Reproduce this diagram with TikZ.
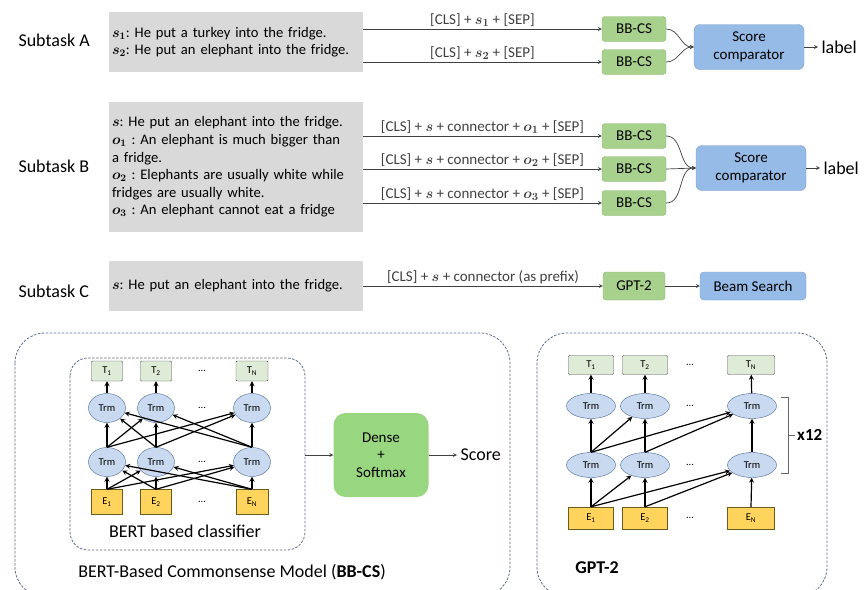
\documentclass[tikz,border=0pt]{standalone}
\usepackage{amsmath}
\usepackage{amssymb}
\usepackage{fontspec}
\setmainfont{Carlito}
\usepackage{tikz}
\usepgflibrary{arrows}
\usetikzlibrary{shapes.geometric}
\frenchspacing

\definecolor{boxgray}{HTML}{D9D9D9}
\definecolor{bbgreen}{HTML}{A9D18E}
\definecolor{bbline}{HTML}{8CB86E}
\definecolor{cmpblue}{HTML}{95BBE6}
\definecolor{cmpline}{HTML}{7C9CC8}
\definecolor{trmfill}{HTML}{C9DAF0}
\definecolor{trmline}{HTML}{4A6894}
\definecolor{tokfill}{HTML}{DDEBD7}
\definecolor{embfill}{HTML}{FFD45C}
\definecolor{embline}{HTML}{6B5A1E}
\definecolor{dashline}{HTML}{5A6B8C}

\begin{document}
\begin{tikzpicture}[x=1pt,y=-1pt,
  big/.style={font=\fontsize{18}{20}\selectfont},
  txt/.style={font=\fontsize{15}{17.6}\selectfont},
  stxt/.style={font=\fontsize{14.6}{17.6}\selectfont},
  tiny/.style={font=\fontsize{10.5}{11}\selectfont},
  sentbox/.style={stxt,fill=boxgray,minimum width=254,text width=248,inner sep=3,align=left},
  bbcs/.style={txt,fill=bbgreen,draw=bbline,rounded corners=3,minimum width=64,minimum height=25,inner sep=0},
  cmp/.style={txt,fill=cmpblue,draw=cmpline,rounded corners=6,minimum width=110,minimum height=45,inner sep=0,align=center},
  trm/.style={tiny,ellipse,fill=trmfill,draw=trmline,inner sep=0},
  tok/.style={tiny,fill=tokfill,draw=black!70,rounded corners=1,inner sep=0},
  emb/.style={tiny,fill=embfill,draw=embline,inner sep=0},
  panel/.style={draw=dashline,dash pattern=on 2.5pt off 1.5pt,line width=0.8pt,rounded corners=30},
  flow/.style={-stealth,line width=0.7pt,black!75},
  net/.style={-stealth,line width=1.2pt}]

\useasboundingbox (0,0) rectangle (867,589);
\clip (0,0) rectangle (867,589);

% subtask A
\node [big,anchor=west] (subA) at (15,40) {Subtask A};
\node [sentbox,minimum height=60] (boxA) at (236,42)
  {$\boldsymbol{s}_{\boldsymbol{1}}$: He put a turkey into the fridge.\\
   $\boldsymbol{s}_{\boldsymbol{2}}$: He put an elephant into the fridge.};
\node [bbcs] (bbA1) at (634,29) {BB-CS};
\node [bbcs] (bbA2) at (634,62) {BB-CS};
\node [cmp] (cmpA) at (749,47) {Score\\comparator};
\node [big,anchor=west] (labA) at (818,47) {label};
\draw [flow] (boxA.east |- bbA1) -- (bbA1.west) node [txt,midway,above,yshift=-1] {[CLS] + $\boldsymbol{s}_{\boldsymbol{1}}$ + [SEP]};
\draw [flow] (boxA.east |- bbA2) -- (bbA2.west) node [txt,midway,above,yshift=-1] {[CLS] + $\boldsymbol{s}_{\boldsymbol{2}}$ + [SEP]};
\draw [flow] (bbA1.east) to [out=0,in=180] (cmpA.west);
\draw [flow] (bbA2.east) to [out=0,in=180] (cmpA.west);
\draw [flow] (cmpA.east) -- (labA.west);

% subtask B
\node [big,anchor=west] (subB) at (15,166) {Subtask B};
\node [sentbox,minimum height=130] (boxB) at (236,167)
  {$\boldsymbol{s}$: He put an elephant into the fridge.\\
   $\boldsymbol{o}_{\boldsymbol{1}}$ : An elephant is much bigger than\\
   a fridge.\\
   $\boldsymbol{o}_{\boldsymbol{2}}$ : Elephants are usually white while\\
   fridges are usually white.\\
   $\boldsymbol{o}_{\boldsymbol{3}}$ : An elephant cannot eat a fridge};
\node [bbcs] (bbB1) at (634,136) {BB-CS};
\node [bbcs] (bbB2) at (634,169) {BB-CS};
\node [bbcs] (bbB3) at (634,203) {BB-CS};
\node [cmp] (cmpB) at (751,168) {Score\\comparator};
\node [big,anchor=west] (labB) at (820,168) {label};
\draw [flow] (boxB.east |- bbB1) -- (bbB1.west) node [txt,midway,above,yshift=-1] {[CLS] + $\boldsymbol{s}$ + connector + $\boldsymbol{o}_{\boldsymbol{1}}$ + [SEP]};
\draw [flow] (boxB.east |- bbB2) -- (bbB2.west) node [txt,midway,above,yshift=-1] {[CLS] + $\boldsymbol{s}$ + connector + $\boldsymbol{o}_{\boldsymbol{2}}$ + [SEP]};
\draw [flow] (boxB.east |- bbB3) -- (bbB3.west) node [txt,midway,above,yshift=-1] {[CLS] + $\boldsymbol{s}$ + connector + $\boldsymbol{o}_{\boldsymbol{3}}$ + [SEP]};
\draw [flow] (bbB1.east) to [out=0,in=180] (cmpB.west);
\draw [flow] (bbB2.east) -- (cmpB.west);
\draw [flow] (bbB3.east) to [out=0,in=180] (cmpB.west);
\draw [flow] (cmpB.east) -- (labB.west);

% subtask C
\node [big,anchor=west] (subC) at (15,291) {Subtask C};
\node [sentbox,minimum height=50] (boxC) at (236,286)
  {$\boldsymbol{s}$: He put an elephant into the fridge.};
\node [bbcs,minimum width=62,minimum height=28] (gpt) at (634,286) {GPT-2};
\node [cmp,minimum width=106,minimum height=28,rounded corners=4] (beam) at (753,286) {Beam Search};
\draw [flow] (boxC.east |- gpt) -- (gpt.west) node [txt,midway,above,yshift=-2] {[CLS] + $\boldsymbol{s}$ + connector (as prefix)};
\draw [flow] (gpt.east) -- (beam.west);

% BB-CS panel
\draw [panel] (15,333) rectangle (510,597);
\draw [panel,rounded corners=18] (70,358) rectangle (305,550);
\node [tok,minimum width=31,minimum height=20] (bt1) at (107,371) {T\textsubscript{1}};
\node [tok,minimum width=31,minimum height=20] (bt2) at (156,371) {T\textsubscript{2}};
\node [tok,minimum width=32,minimum height=20] (btn) at (252,371) {T\textsubscript{N}};
\node [trm,minimum width=37,minimum height=29] (bh1) at (107,408) {Trm};
\node [trm,minimum width=37,minimum height=29] (bh2) at (156,408) {Trm};
\node [trm,minimum width=37,minimum height=29] (bhn) at (252,408) {Trm};
\node [trm,minimum width=37,minimum height=29] (bl1) at (107,462) {Trm};
\node [trm,minimum width=37,minimum height=29] (bl2) at (156,462) {Trm};
\node [trm,minimum width=37,minimum height=29] (bln) at (252,462) {Trm};
\node [emb,minimum width=31,minimum height=25] (be1) at (107,502) {E\textsubscript{1}};
\node [emb,minimum width=31,minimum height=25] (be2) at (156,502) {E\textsubscript{2}};
\node [emb,minimum width=32,minimum height=25] (ben) at (252,502) {E\textsubscript{N}};
\node [tiny] at (202,371) {...};
\node [tiny] at (202,408) {...};
\node [tiny] at (202,462) {...};
\node [tiny] at (202,502) {...};
\begin{scope}[net]
	\draw (be1.north) -- (bl1);
	\draw (be1.north) -- (bl2);
	\draw (be1.north) -- (bln);
	\draw (be2.north) -- (bl1);
	\draw (be2.north) -- (bl2);
	\draw (be2.north) -- (bln);
	\draw (ben.north) -- (bl1);
	\draw (ben.north) -- (bl2);
	\draw (ben.north) -- (bln);
	\draw (bl1.north) -- (bh1);
	\draw (bl1.north) -- (bh2);
	\draw (bl1.north) -- (bhn);
	\draw (bl2.north) -- (bh1);
	\draw (bl2.north) -- (bh2);
	\draw (bl2.north) -- (bhn);
	\draw (bln.north) -- (bh1);
	\draw (bln.north) -- (bh2);
	\draw (bln.north) -- (bhn);
	\draw (bh1) -- (bt1);
	\draw (bh2) -- (bt2);
	\draw (bhn) -- (btn);
\end{scope}
\node [big] (bertcls) at (185,531) {BERT based classifier};
\node [big] (bbcsname) at (232,572) {BERT-Based Commonsense Model (\textbf{BB-CS})};
\coordinate (bertout) at (305,455);
\node [txt,fill=bbgreen!90!green,rounded corners=12,minimum width=95,minimum height=84,align=center] (dense) at (381,455) {Dense\\+\\Softmax};
\node [big,anchor=west] (score) at (457,455) {Score};
\draw [flow] (bertout) -- (dense.west);
\draw [flow] (dense.east) -- (score.west);

% GPT-2 panel
\draw [panel] (537,333) rectangle (827,597);
\node [tok,minimum width=45,minimum height=19] (gt1) at (591,365) {T\textsubscript{1}};
\node [tok,minimum width=45,minimum height=19] (gt2) at (645,365) {T\textsubscript{2}};
\node [tok,minimum width=47,minimum height=19] (gtn) at (751,365) {T\textsubscript{N}};
\node [trm,minimum width=49,minimum height=25] (gh1) at (591,406) {Trm};
\node [trm,minimum width=49,minimum height=25] (gh2) at (645,406) {Trm};
\node [trm,minimum width=49,minimum height=25] (ghn) at (752,406) {Trm};
\node [trm,minimum width=49,minimum height=25] (gl1) at (591,465) {Trm};
\node [trm,minimum width=49,minimum height=25] (gl2) at (645,465) {Trm};
\node [trm,minimum width=49,minimum height=25] (gln) at (752,465) {Trm};
\node [emb,minimum width=45,minimum height=22] (ge1) at (591,518) {E\textsubscript{1}};
\node [emb,minimum width=45,minimum height=22] (ge2) at (645,518) {E\textsubscript{2}};
\node [emb,minimum width=47,minimum height=22] (gen) at (751,518) {E\textsubscript{N}};
\node [tiny] at (690,365) {...};
\node [tiny] at (690,406) {...};
\node [tiny] at (690,465) {...};
\node [tiny] at (690,518) {...};
\begin{scope}[net]
	\draw (ge1.north) -- (gl1);
	\draw (ge1.north) -- (gl2);
	\draw (ge1.north) -- (gln);
	\draw (ge2.north) -- (gl2);
	\draw (ge2.north) -- (gln);
	\draw (gen.north) -- (gln);
	\draw (gl1.north) -- (gh1);
	\draw (gl1.north) -- (gh2);
	\draw (gl1.north) -- (ghn);
	\draw (gl2.north) -- (gh2);
	\draw (gl2.north) -- (ghn);
	\draw (gln.north) -- (ghn);
	\draw (gh1) -- (gt1);
	\draw (gh2) -- (gt2);
	\draw (ghn) -- (gtn);
\end{scope}
% x12 bracket
\draw [black!60,line width=0.6pt] (781,397) -- (788,397) -- (788,473) -- (781,473);
\draw [black!60,line width=0.6pt] (788,435) -- (795,435);
\node [big,anchor=west,inner sep=1,font=\fontsize{17}{20}\selectfont\bfseries] (rep) at (796,435) {x12};
\node [big,font=\fontsize{18}{20}\selectfont\bfseries] (gptname) at (597,568) {GPT-2};

\end{tikzpicture}
\end{document}
